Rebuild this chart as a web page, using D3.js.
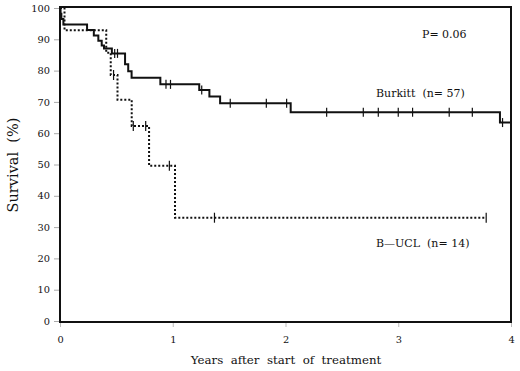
<!DOCTYPE html>
<html>
<head>
<meta charset="utf-8">
<script src="https://cdn.jsdelivr.net/npm/d3@7"></script>
<style>
  html, body { margin: 0; padding: 0; background: #fff; }
  svg { display: block; }
  text { font-family: "DejaVu Serif", "Liberation Serif", serif; fill: #111; white-space: pre; }
</style>
</head>
<body>
<svg id="chart" width="520" height="371"></svg>
<script>
// ---- data ----
const yTicks = [0, 10, 20, 30, 40, 50, 60, 70, 80, 90, 100];
const xTicks = [0, 1, 2, 3, 4];

// Burkitt (n=57): event times (years) and survival (%) after each step
const burkittTimes = [0, 0.005, 0.012, 0.03, 0.24, 0.30, 0.34, 0.37, 0.39, 0.46, 0.577, 0.605, 0.635, 0.89, 1.235, 1.325, 1.42, 2.046, 3.902];
const burkittSurv  = [100, 98.2, 96.5, 94.7, 93.0, 91.2, 89.5, 88.0, 87.1, 85.5, 82.0, 79.8, 77.7, 75.6, 73.8, 71.7, 69.6, 66.7, 63.4];
const burkittEnd = 4.0;
const burkittCensor = [0.485, 0.51, 0.94, 0.98, 1.257, 1.51, 1.83, 2.01, 2.365, 2.69, 2.823, 3.0, 3.127, 3.452, 3.657, 3.925];

// B-UCL (n=14)
const buclTimes = [0, 0.04, 0.41, 0.45, 0.51, 0.636, 0.79, 1.02];
const buclSurv  = [100, 92.9, 85.7, 78.6, 70.7, 62.3, 49.6, 33.0];
const buclEnd = 3.78;
const buclCensor = [0.475, 0.65, 0.76, 0.97, 1.37, 3.78];

const labels = {
  p: "P= 0.06",
  burkitt: "Burkitt  (n= 57)",
  bucl: "B\u2014UCL  (n= 14)",
  xTitle: "Years  after  start  of  treatment",
  yTitle: "Survival  (%)"
};

// ---- drawing ----
const svg = d3.select("#chart");
const x = d3.scaleLinear().domain([0, 4]).range([60, 511]);
const y = d3.scaleLinear().domain([0, 100]).range([321, 8]);

// axes ticks
const yAxis = d3.axisLeft(y).tickValues(yTicks).tickFormat(d3.format("d")).tickSize(6).tickPadding(4);
const gy = svg.append("g").attr("transform", `translate(${x(0)},0)`).call(yAxis);
gy.select(".domain").remove();
gy.selectAll(".tick line").attr("stroke", "#aaa");
gy.selectAll(".tick text").style("font-family", '"DejaVu Serif", serif').style("font-size", "9.8px").attr("fill", "#111");

const xAxis = d3.axisBottom(x).tickValues(xTicks).tickFormat(d3.format("d")).tickSize(6).tickPadding(9);
const gx = svg.append("g").attr("transform", `translate(0,${y(0)})`).call(xAxis);
gx.select(".domain").remove();
gx.selectAll(".tick line").attr("stroke", "#bbb");
gx.selectAll(".tick text").style("font-family", '"DejaVu Serif", serif').style("font-size", "9.8px").attr("fill", "#111");

// frame
svg.append("rect")
  .attr("x", x(0)).attr("y", 7)
  .attr("width", x(4) - x(0)).attr("height", y(0) - 7 + 1)
  .attr("fill", "none").attr("stroke", "#111").attr("stroke-width", 2);

function stepPoints(times, surv, end) {
  const pts = times.map((t, i) => [t, surv[i]]);
  pts.push([end, surv[surv.length - 1]]);
  return pts;
}
function survAt(times, surv, t) {
  let s = surv[0];
  for (let i = 0; i < times.length; i++) if (times[i] <= t) s = surv[i];
  return s;
}
const line = d3.line().x(d => x(d[0])).y(d => y(d[1])).curve(d3.curveStepAfter);

// B-UCL dotted
svg.append("path")
  .datum(stepPoints(buclTimes, buclSurv, buclEnd))
  .attr("d", line)
  .attr("fill", "none").attr("stroke", "#111").attr("stroke-width", 2)
  .attr("stroke-dasharray", "2,2");
svg.append("g").selectAll("line").data(buclCensor).join("line")
  .attr("x1", d => x(d)).attr("x2", d => x(d))
  .attr("y1", d => y(survAt(buclTimes, buclSurv, d)) - 5)
  .attr("y2", d => y(survAt(buclTimes, buclSurv, d)) + 5)
  .attr("stroke", "#111").attr("stroke-width", 1.2);

// Burkitt solid
svg.append("path")
  .datum(stepPoints(burkittTimes, burkittSurv, burkittEnd))
  .attr("d", line)
  .attr("fill", "none").attr("stroke", "#111").attr("stroke-width", 2);
svg.append("g").selectAll("line").data(burkittCensor).join("line")
  .attr("x1", d => x(d)).attr("x2", d => x(d))
  .attr("y1", d => y(survAt(burkittTimes, burkittSurv, d)) - 4.5)
  .attr("y2", d => y(survAt(burkittTimes, burkittSurv, d)) + 4.5)
  .attr("stroke", "#111").attr("stroke-width", 1.2);

// annotations
svg.append("text").attr("x", 422).attr("y", 38).style("font-size", "11px").text(labels.p);
svg.append("text").attr("x", 376).attr("y", 97).style("font-size", "11px").text(labels.burkitt);
svg.append("text").attr("x", 376).attr("y", 247).style("font-size", "11px").text(labels.bucl);

// axis titles
svg.append("text").attr("x", 286).attr("y", 364)
  .attr("text-anchor", "middle").style("font-size", "11.8px").text(labels.xTitle);
svg.append("text").attr("transform", `translate(18,165) rotate(-90)`)
  .attr("text-anchor", "middle").style("font-size", "14.5px").text(labels.yTitle);
</script>
</body>
</html>
